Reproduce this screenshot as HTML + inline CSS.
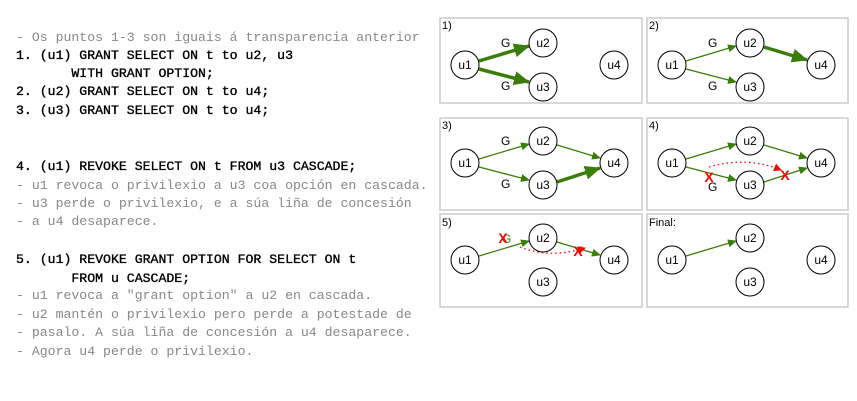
<!DOCTYPE html>
<html><head><meta charset="utf-8"><style>
body{margin:0;width:857px;height:401px;background:#fff;position:relative;overflow:hidden}
.t{position:absolute;left:16px;font-family:"Liberation Mono",monospace;font-size:13.2px;line-height:18px;white-space:pre;color:#000;-webkit-text-stroke:0.35px #000}
.g{color:#888;-webkit-text-stroke:0}
svg{position:absolute;left:0;top:0}
</style></head><body>
<div class="t g" style="top:29px">- Os puntos 1-3 son iguais á transparencia anterior</div>
<div class="t" style="top:47px">1. (u1) GRANT SELECT ON t to u2, u3</div>
<div class="t" style="top:65px">       WITH GRANT OPTION;</div>
<div class="t" style="top:83px">2. (u2) GRANT SELECT ON t to u4;</div>
<div class="t" style="top:102px">3. (u3) GRANT SELECT ON t to u4;</div>
<div class="t" style="top:158px">4. (u1) REVOKE SELECT ON t FROM u3 CASCADE;</div>
<div class="t g" style="top:177px">- u1 revoca o privilexio a u3 coa opción en cascada.</div>
<div class="t g" style="top:195px">- u3 perde o privilexio, e a súa liña de concesión</div>
<div class="t g" style="top:213px">- a u4 desaparece.</div>
<div class="t" style="top:251px">5. (u1) REVOKE GRANT OPTION FOR SELECT ON t</div>
<div class="t" style="top:270px">       FROM u CASCADE;</div>
<div class="t g" style="top:287px">- u1 revoca a "grant option" a u2 en cascada.</div>
<div class="t g" style="top:306px">- u2 mantén o privilexio pero perde a potestade de</div>
<div class="t g" style="top:324px">- pasalo. A súa liña de concesión a u4 desaparece.</div>
<div class="t g" style="top:343px">- Agora u4 perde o privilexio.</div>
<svg width="857" height="401" font-family="Liberation Sans,sans-serif" font-size="11">
<defs>
<marker id="a" markerWidth="9" markerHeight="8" refX="8" refY="4" orient="auto" markerUnits="userSpaceOnUse"><path d="M0,0L9,4L0,8z" fill="#3a7d0a"/></marker>
<marker id="b" markerWidth="16" markerHeight="14" refX="15" refY="7" orient="auto" markerUnits="userSpaceOnUse"><path d="M0,0L16,7L0,14z" fill="#3a7d0a"/></marker>
<marker id="r" markerWidth="8" markerHeight="8" refX="7" refY="4" orient="auto" markerUnits="userSpaceOnUse"><path d="M0,0L8,4L0,8z" fill="#f00"/></marker>
</defs>
<g stroke="#ccc" stroke-width="1.5" fill="none">
<rect x="440" y="18" width="202" height="85"/><rect x="647" y="18" width="201" height="85"/>
<rect x="440" y="118" width="202" height="92"/><rect x="647" y="118" width="201" height="92"/>
<rect x="440" y="214" width="202" height="93"/><rect x="647" y="214" width="201" height="93"/>
</g>
<g transform="translate(440,18)">
<text x="2" y="11">1)</text>
<line x1="39" y1="43" x2="89" y2="28" stroke="#3a7d0a" stroke-width="3.5" marker-end="url(#b)"/>
<line x1="39" y1="51" x2="89" y2="64" stroke="#3a7d0a" stroke-width="3.5" marker-end="url(#b)"/>
<text x="61" y="29" font-size="12">G</text><text x="61" y="72" font-size="12">G</text>
</g>
<g transform="translate(647,18)">
<text x="2" y="11">2)</text>
<line x1="39" y1="43" x2="89" y2="28" stroke="#3a7d0a" stroke-width="1.3" marker-end="url(#a)"/>
<line x1="39" y1="51" x2="89" y2="64" stroke="#3a7d0a" stroke-width="1.3" marker-end="url(#a)"/>
<line x1="117" y1="29" x2="160" y2="42" stroke="#3a7d0a" stroke-width="3.5" marker-end="url(#b)"/>
<text x="61" y="29" font-size="12">G</text><text x="61" y="72" font-size="12">G</text>
</g>
<g transform="translate(440,116)">
<text x="2" y="13">3)</text>
<line x1="39" y1="43" x2="89" y2="28" stroke="#3a7d0a" stroke-width="1.3" marker-end="url(#a)"/>
<line x1="39" y1="51" x2="89" y2="64" stroke="#3a7d0a" stroke-width="1.3" marker-end="url(#a)"/>
<line x1="117" y1="29" x2="160" y2="42" stroke="#3a7d0a" stroke-width="1.3" marker-end="url(#a)"/>
<line x1="117" y1="66" x2="160" y2="52" stroke="#3a7d0a" stroke-width="3.5" marker-end="url(#b)"/>
<text x="61" y="29" font-size="12">G</text><text x="61" y="72" font-size="12">G</text>
</g>
<g transform="translate(647,116)">
<text x="2" y="13">4)</text>
<line x1="39" y1="43" x2="89" y2="28" stroke="#3a7d0a" stroke-width="1.3" marker-end="url(#a)"/>
<line x1="39" y1="51" x2="89" y2="64" stroke="#3a7d0a" stroke-width="1.3" marker-end="url(#a)"/>
<line x1="117" y1="29" x2="160" y2="42" stroke="#3a7d0a" stroke-width="1.3" marker-end="url(#a)"/>
<line x1="117" y1="66" x2="160" y2="52" stroke="#3a7d0a" stroke-width="1.3" marker-end="url(#a)"/>
<path d="M62,51 Q100,40 134,54" fill="none" stroke="#f00" stroke-width="1.3" stroke-dasharray="1.5,3" marker-end="url(#r)"/>
<text x="61" y="75" font-size="12">G</text>
<text x="62" y="66" fill="#f00" font-size="14" font-weight="bold" text-anchor="middle">X</text>
<text x="138" y="64" fill="#f00" font-size="14" font-weight="bold" text-anchor="middle">X</text>
</g>
<g transform="translate(440,213)">
<text x="2" y="13">5)</text>
<line x1="39" y1="43" x2="89" y2="28" stroke="#3a7d0a" stroke-width="1.3" marker-end="url(#a)"/>
<line x1="117" y1="29" x2="160" y2="42" stroke="#3a7d0a" stroke-width="1.3" marker-end="url(#a)"/>
<path d="M80,34 Q110,46 145,35" fill="none" stroke="#f00" stroke-width="1.3" stroke-dasharray="1.5,3" marker-end="url(#r)"/>
<text x="62" y="30" fill="#3a7d0a" font-size="12">G</text>
<text x="63" y="30" fill="#f00" font-size="14" font-weight="bold" text-anchor="middle">X</text>
<text x="138" y="43" fill="#f00" font-size="14" font-weight="bold" text-anchor="middle">X</text>
</g>
<g transform="translate(647,213)">
<text x="2" y="13">Final:</text>
<line x1="39" y1="43" x2="89" y2="28" stroke="#3a7d0a" stroke-width="1.3" marker-end="url(#a)"/>
</g>
<g fill="#fff" stroke="#000" stroke-width="1">
<circle cx="465" cy="65" r="14"/><circle cx="543" cy="43" r="14"/><circle cx="543" cy="87" r="14"/><circle cx="614" cy="65" r="14"/>
<circle cx="672" cy="65" r="14"/><circle cx="750" cy="43" r="14"/><circle cx="750" cy="87" r="14"/><circle cx="821" cy="65" r="14"/>
<circle cx="465" cy="163" r="14"/><circle cx="543" cy="141" r="14"/><circle cx="543" cy="185" r="14"/><circle cx="614" cy="163" r="14"/>
<circle cx="672" cy="163" r="14"/><circle cx="750" cy="141" r="14"/><circle cx="750" cy="185" r="14"/><circle cx="821" cy="163" r="14"/>
<circle cx="465" cy="260" r="14"/><circle cx="543" cy="238" r="14"/><circle cx="543" cy="282" r="14"/><circle cx="614" cy="260" r="14"/>
<circle cx="672" cy="260" r="14"/><circle cx="750" cy="238" r="14"/><circle cx="750" cy="282" r="14"/><circle cx="821" cy="260" r="14"/>
</g>
<g text-anchor="middle" font-size="12">
<text x="465" y="69">u1</text><text x="543" y="47">u2</text><text x="543" y="91">u3</text><text x="614" y="69">u4</text>
<text x="672" y="69">u1</text><text x="750" y="47">u2</text><text x="750" y="91">u3</text><text x="821" y="69">u4</text>
<text x="465" y="167">u1</text><text x="543" y="145">u2</text><text x="543" y="189">u3</text><text x="614" y="167">u4</text>
<text x="672" y="167">u1</text><text x="750" y="145">u2</text><text x="750" y="189">u3</text><text x="821" y="167">u4</text>
<text x="465" y="264">u1</text><text x="543" y="242">u2</text><text x="543" y="286">u3</text><text x="614" y="264">u4</text>
<text x="672" y="264">u1</text><text x="750" y="242">u2</text><text x="750" y="286">u3</text><text x="821" y="264">u4</text>
</g>
</svg>
</body></html>
